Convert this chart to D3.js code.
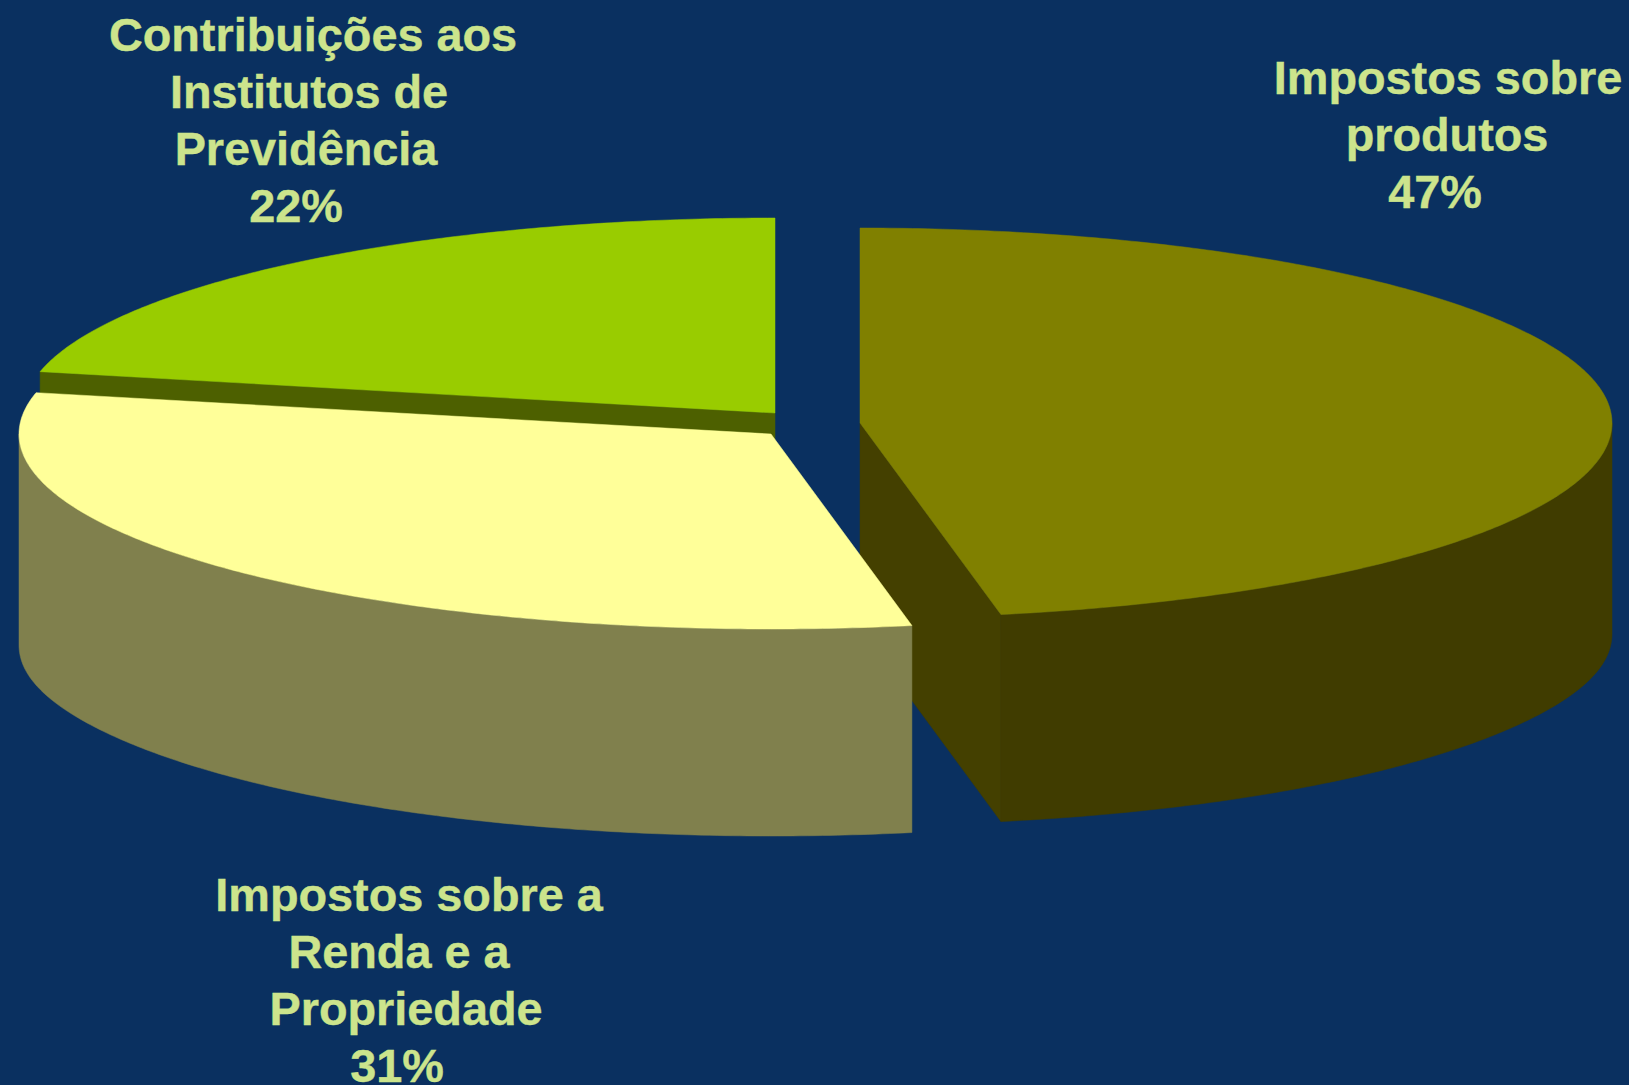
<!DOCTYPE html>
<html>
<head>
<meta charset="utf-8">
<script src="https://cdn.jsdelivr.net/npm/d3@7"></script>
<style>
  html, body { margin: 0; padding: 0; background: #0a3060; overflow: hidden; }
  svg { display: block; }
  text { font-family: "Liberation Sans", Arial, sans-serif; font-weight: bold; font-size: 46.8px; fill: #cce48c; stroke: #cce48c; stroke-width: 0.4px; }
</style>
</head>
<body>
<svg id="chart"></svg>
<script>
const categories = ["Impostos sobre produtos", "Impostos sobre a Renda e a Propriedade", "Contribuições aos Institutos de Previdência"]
// the labels print them rounded
const values = [47, 31.4, 21.6]
const topColors = ["#808000", "#ffff99", "#99cc00"]
const wallColors = ["#403c00", "#80804d", "#4d6000"]
const faceColors = ["#444000", "#80804d", "#4d6000"]
const labelLines = [
  ["Impostos sobre", "produtos"],
  ["Impostos sobre a", "Renda e a", "Propriedade"],
  ["Contribuições aos", "Institutos de", "Previdência"]
]

const width = 1629, height = 1085
const rx = 752, ry = 195, depth = 207
// where each exploded slice has its apex
const apex = [[860, 423], [771, 434], [775, 413]]
const labelPos = [
  [[1448, 93.5], [1447, 150.7], [1435, 208]],
  [[409, 910.7], [399, 967.7], [406, 1025], [397, 1082]],
  [[313, 50.7], [309, 107.5], [306, 164.7], [296, 222]]
]

const svg = d3.select("#chart").attr("width", width).attr("height", height)
svg.append("rect").attr("width", width).attr("height", height).attr("fill", "#0a3060")

const slices = d3.pie().sort(null)(values)

function project(i, angle, drop) {
  const s = Math.sin(angle)
  // bottom rim sits a little lower at the far left and right
  const sag = drop > 0 ? 4 * Math.pow(s, 16) : 0
  return [apex[i][0] + rx * s, apex[i][1] - ry * Math.cos(angle) + drop + sag]
}

function rimPoints(i, a0, a1, drop) {
  const n = Math.max(2, Math.ceil(Math.abs(a1 - a0) / 0.01))
  return d3.range(n + 1).map(k => project(i, a0 + (a1 - a0) * k / n, drop))
}

const line = d3.line()

// back to front, the yellow slice has to cover the other two
const order = [0, 2, 1]

order.forEach(i => {
  const d = slices[i]
  const g = svg.append("g").attr("class", "slice")

  const from = Math.max(d.startAngle, Math.PI / 2)
  const to = Math.min(d.endAngle, 3 * Math.PI / 2)
  if (to > from) {
    const pts = rimPoints(i, from, to, 0).concat(rimPoints(i, to, from, depth))
    g.append("path").attr("d", line(pts) + "Z").attr("fill", wallColors[i])
      .attr("stroke", wallColors[i]).attr("stroke-width", 0.5)
  }

  const a = apex[i]
  const end = project(i, d.endAngle, 0)
  if (end[0] > a[0] || i === 2) {
    const p = i === 2 ? project(i, d.startAngle, 0) : end
    const shown = [a, p, [p[0], p[1] + depth], [a[0], a[1] + depth]]
    g.append("path").attr("d", line(shown) + "Z").attr("fill", faceColors[i])
      .attr("stroke", wallColors[i]).attr("stroke-width", 0.5)
  }

  const top = [a].concat(rimPoints(i, d.startAngle, d.endAngle, 0))
  g.append("path").attr("d", line(top) + "Z").attr("fill", topColors[i])
    .attr("stroke", topColors[i]).attr("stroke-width", 0.5)
})

labelLines.forEach((lines, i) => {
  const t = svg.append("text").attr("text-anchor", "middle")
  lines.concat(Math.round(values[i]) + "%").forEach((s, k) => {
    t.append("tspan").attr("x", labelPos[i][k][0]).attr("y", labelPos[i][k][1]).text(s)
  })
})
</script>
</body>
</html>
